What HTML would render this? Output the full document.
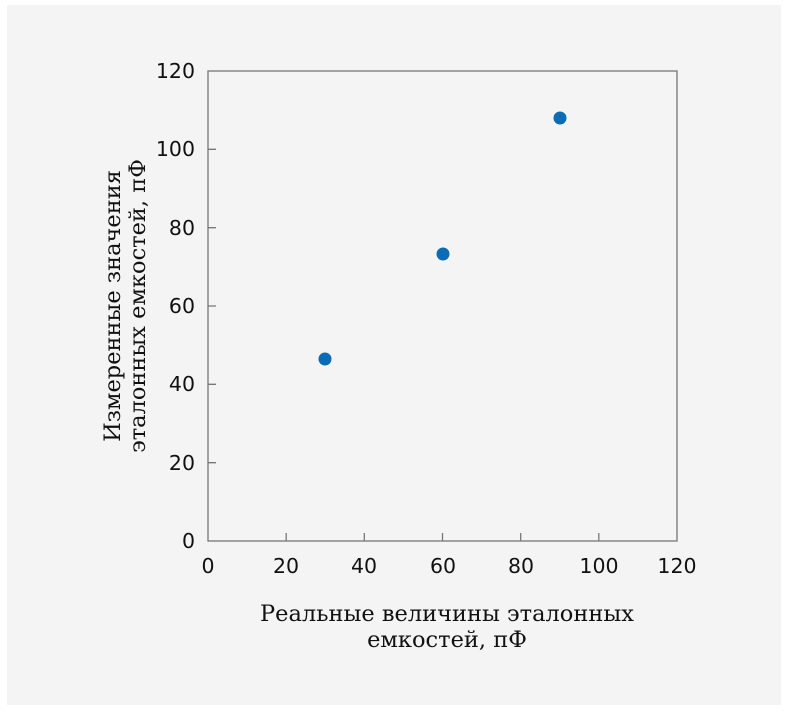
<!DOCTYPE html>
<html><head><meta charset="utf-8"><style>
body{margin:0;background:#fff;width:788px;height:711px;overflow:hidden}
</style></head><body>
<svg width="788" height="711" xmlns="http://www.w3.org/2000/svg" font-family="'DejaVu Sans','Liberation Sans',sans-serif">
<rect x="7" y="5" width="774" height="700" fill="#f4f4f4"/>
<g stroke="#777" stroke-width="1.3" fill="none">
<rect x="208" y="71" width="469" height="470"/>
<path d="M286.2 541v-8M364.3 541v-8M442.5 541v-8M520.7 541v-8M598.8 541v-8M208 462.7h8M208 384.3h8M208 306h8M208 227.7h8M208 149.3h8"/>
</g>
<g font-size="20.5" fill="#111" text-anchor="middle">
<text x="208" y="573">0</text><text x="286" y="573">20</text><text x="364" y="573">40</text><text x="443" y="573">60</text><text x="521" y="573">80</text><text x="599" y="573">100</text><text x="677" y="573">120</text>
</g>
<g font-size="20.5" fill="#111" text-anchor="end">
<text x="195" y="548">0</text><text x="195" y="470">20</text><text x="195" y="391">40</text><text x="195" y="313">60</text><text x="195" y="235">80</text><text x="195" y="156">100</text><text x="195" y="78">120</text>
</g>
<g fill="#0b6bb5">
<circle cx="325" cy="359" r="6.5"/><circle cx="443" cy="254" r="6.5"/><circle cx="560" cy="118" r="6.5"/>
</g>
<g font-family="'DejaVu Serif','Liberation Serif',serif" font-size="22.5" fill="#111" text-anchor="middle">
<text x="447" y="621">Реальные величины эталонных</text>
<text x="447" y="647">емкостей, пФ</text>
<text transform="translate(120,306) rotate(-90)">Измеренные значения</text>
<text transform="translate(145,306) rotate(-90)">эталонных емкостей, пФ</text>
</g>
</svg>
</body></html>
